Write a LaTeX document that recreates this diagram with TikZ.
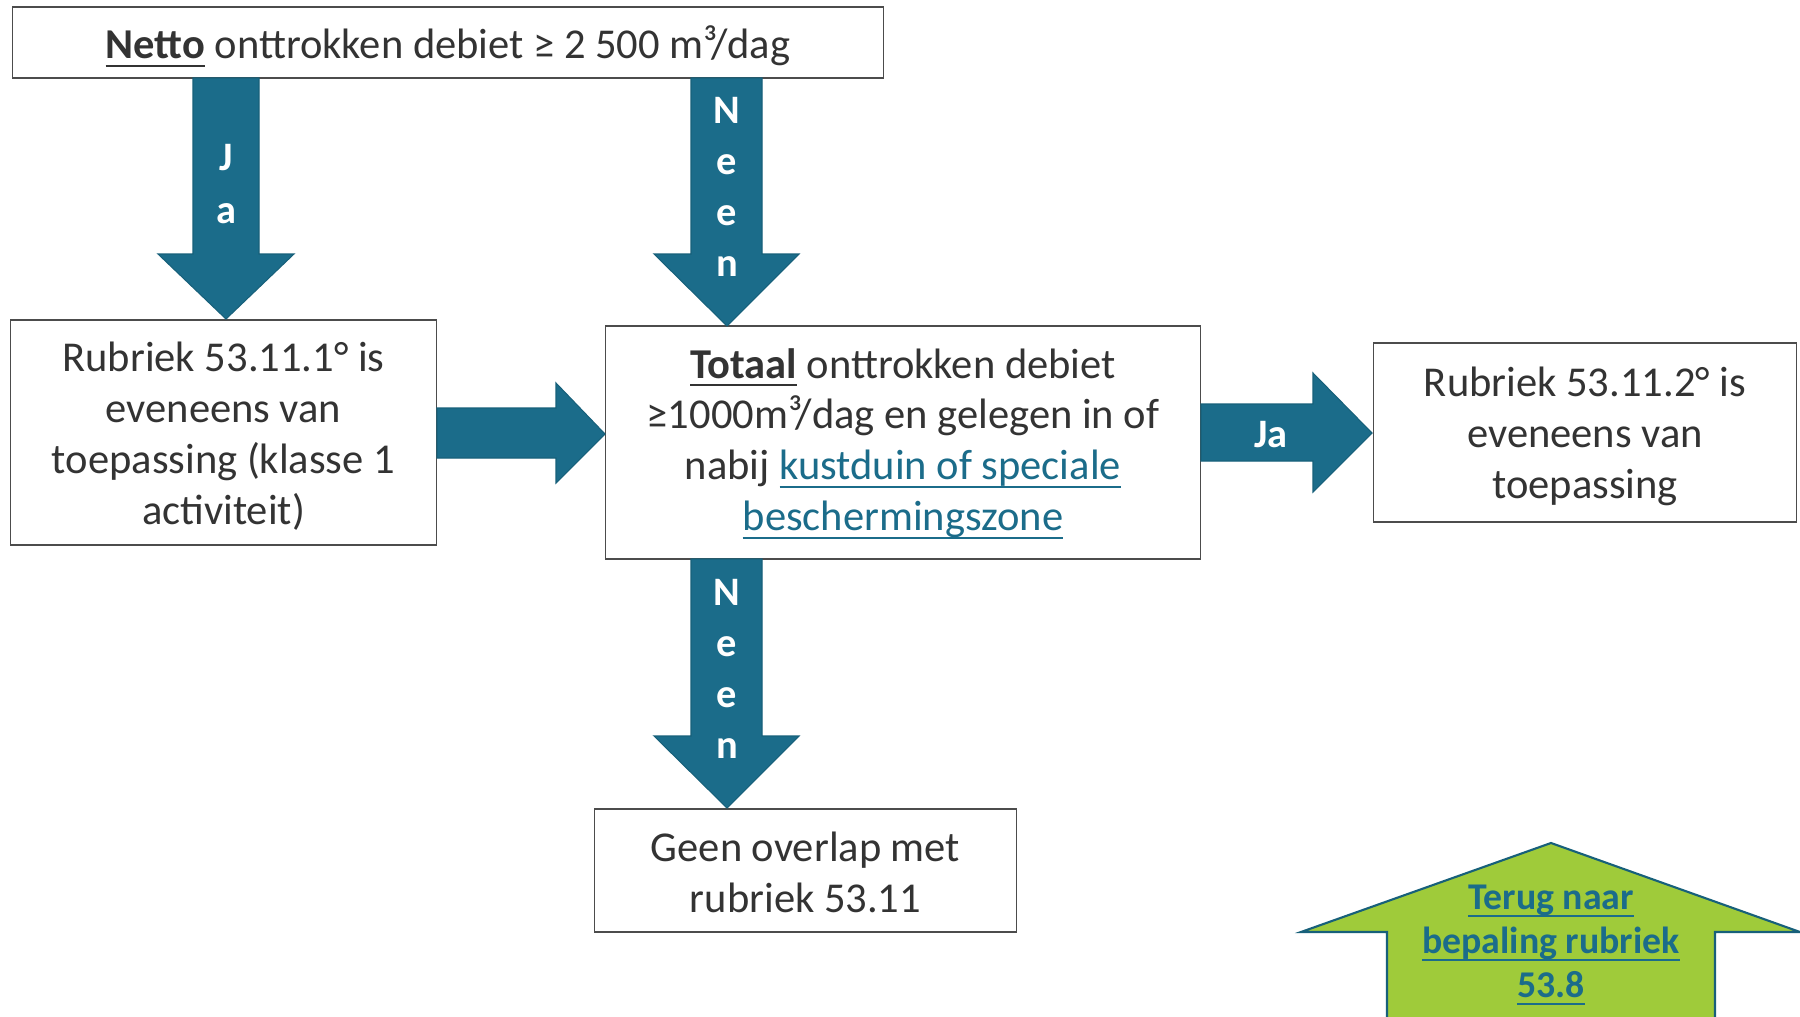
\documentclass[tikz,border=0pt]{standalone}
\usepackage{fontspec}
\setmainfont{Carlito}
\newsavebox{\ulbox}
\newcommand{\myul}[1]{\sbox{\ulbox}{#1}\leavevmode\rlap{\rule[-4.5pt]{\wd\ulbox}{1.3pt}}\usebox{\ulbox}}
\definecolor{teal}{HTML}{1B6C8A}
\definecolor{tealdark}{HTML}{17607A}
\definecolor{lime}{HTML}{9FCB3A}
\definecolor{txt}{HTML}{333333}
\newcommand{\ulink}[1]{\textcolor{teal}{\myul{#1}}}
\newcommand{\ubold}[1]{\myul{\textbf{#1}}}
\begin{document}
\begin{tikzpicture}[x=0.02cm,y=-0.02cm,
  box/.style={draw=black!70, line width=0.6pt, fill=white, inner sep=0pt},
  boxtext/.style={align=center, text=txt, inner sep=0pt, font=\fontsize{24.2}{29}\selectfont},
  blockarrow/.style={fill=teal, draw=tealdark, line width=0.6pt},
  arrowtext/.style={text=white, align=center, font=\fontsize{23}{26}\selectfont\bfseries, inner sep=0pt}]
\useasboundingbox (0,0) rectangle (1800,1017);
\fill[white] (0,0) rectangle (1800,1017);

% boxes
\node[box, minimum width=17.42cm, minimum height=1.42cm] (top) at (448,42.5) {};
\node[boxtext] (toptext) at ([yshift=-0.08cm]top.center)
  {\ubold{Netto} onttrokken debiet ≥ 2 500 m³/dag};
\node[box, minimum width=8.54cm, minimum height=4.5cm] (left) at (223.5,432.5) {};
\node[boxtext] (lefttext) at ([yshift=-0.08cm]left.center)
  {Rubriek 53.11.1° is\\eveneens van\\toepassing (klasse 1\\activiteit)};
\node[box, minimum width=11.92cm, minimum height=4.66cm] (mid) at (903,442.5) {};
\node[boxtext] (midtext) at ([yshift=-0.02cm]mid.center)
  {\ubold{Totaal} onttrokken debiet\\≥1000m³/dag en gelegen in of\\nabij \ulink{kustduin of speciale}\\\ulink{beschermingszone}};
\node[box, minimum width=8.48cm, minimum height=3.58cm] (right) at (1585,432.5) {};
\node[boxtext] (righttext) at ([yshift=-0.07cm]right.center)
  {Rubriek 53.11.2° is\\eveneens van\\toepassing};
\node[box, minimum width=8.46cm, minimum height=2.46cm] (bottom) at (805.5,870.5) {};
\node[boxtext] (bottomtext) at ([yshift=-0.04cm]bottom.center)
  {Geen overlap met\\rubriek 53.11};

% block arrows
\draw[blockarrow] (193,78) -- (193,254) -- (158,254) -- (226,319) -- (294,254) -- (259,254) -- (259,78) -- cycle;
\node[arrowtext] (ja1) at (226,184) {J\\[4pt]a};

\draw[blockarrow] (691,78) -- (691,254) -- (654,254) -- (727,326) -- (799,254) -- (762,254) -- (762,78) -- cycle;
\node[arrowtext] (neen1) at (727,187) {N\\[3pt]e\\[3pt]e\\[3pt]n};

\draw[blockarrow] (437,408) -- (556,408) -- (556,383) -- (605,434) -- (556,483) -- (556,458) -- (437,458) -- cycle;

\draw[blockarrow] (1201,404) -- (1313,404) -- (1313,373) -- (1372,433) -- (1313,492) -- (1313,461) -- (1201,461) -- cycle;
\node[arrowtext] (ja2) at (1271,435) {Ja};

\draw[blockarrow] (691,559) -- (691,736) -- (654,736) -- (727,808) -- (799,736) -- (762,736) -- (762,559) -- cycle;
\node[arrowtext] (neen2) at (727,669) {N\\[3pt]e\\[3pt]e\\[3pt]n};

% back link arrow
\fill[lime] (1387,1025) -- (1387,932) -- (1301,932) -- (1551,843) -- (1800,932) -- (1715,932) -- (1715,1025) -- cycle;
\draw[tealdark, line width=1.2pt] (1387,1025) -- (1387,932) -- (1301,932) -- (1551,843) -- (1800,932) -- (1715,932) -- (1715,1025);
\node[align=center, text=teal, inner sep=0pt, font=\fontsize{21.5}{25}\selectfont\bfseries] (back) at (1551,945)
  {\myul{Terug naar}\\\myul{bepaling rubriek}\\\myul{53.8}};
\end{tikzpicture}
\end{document}
